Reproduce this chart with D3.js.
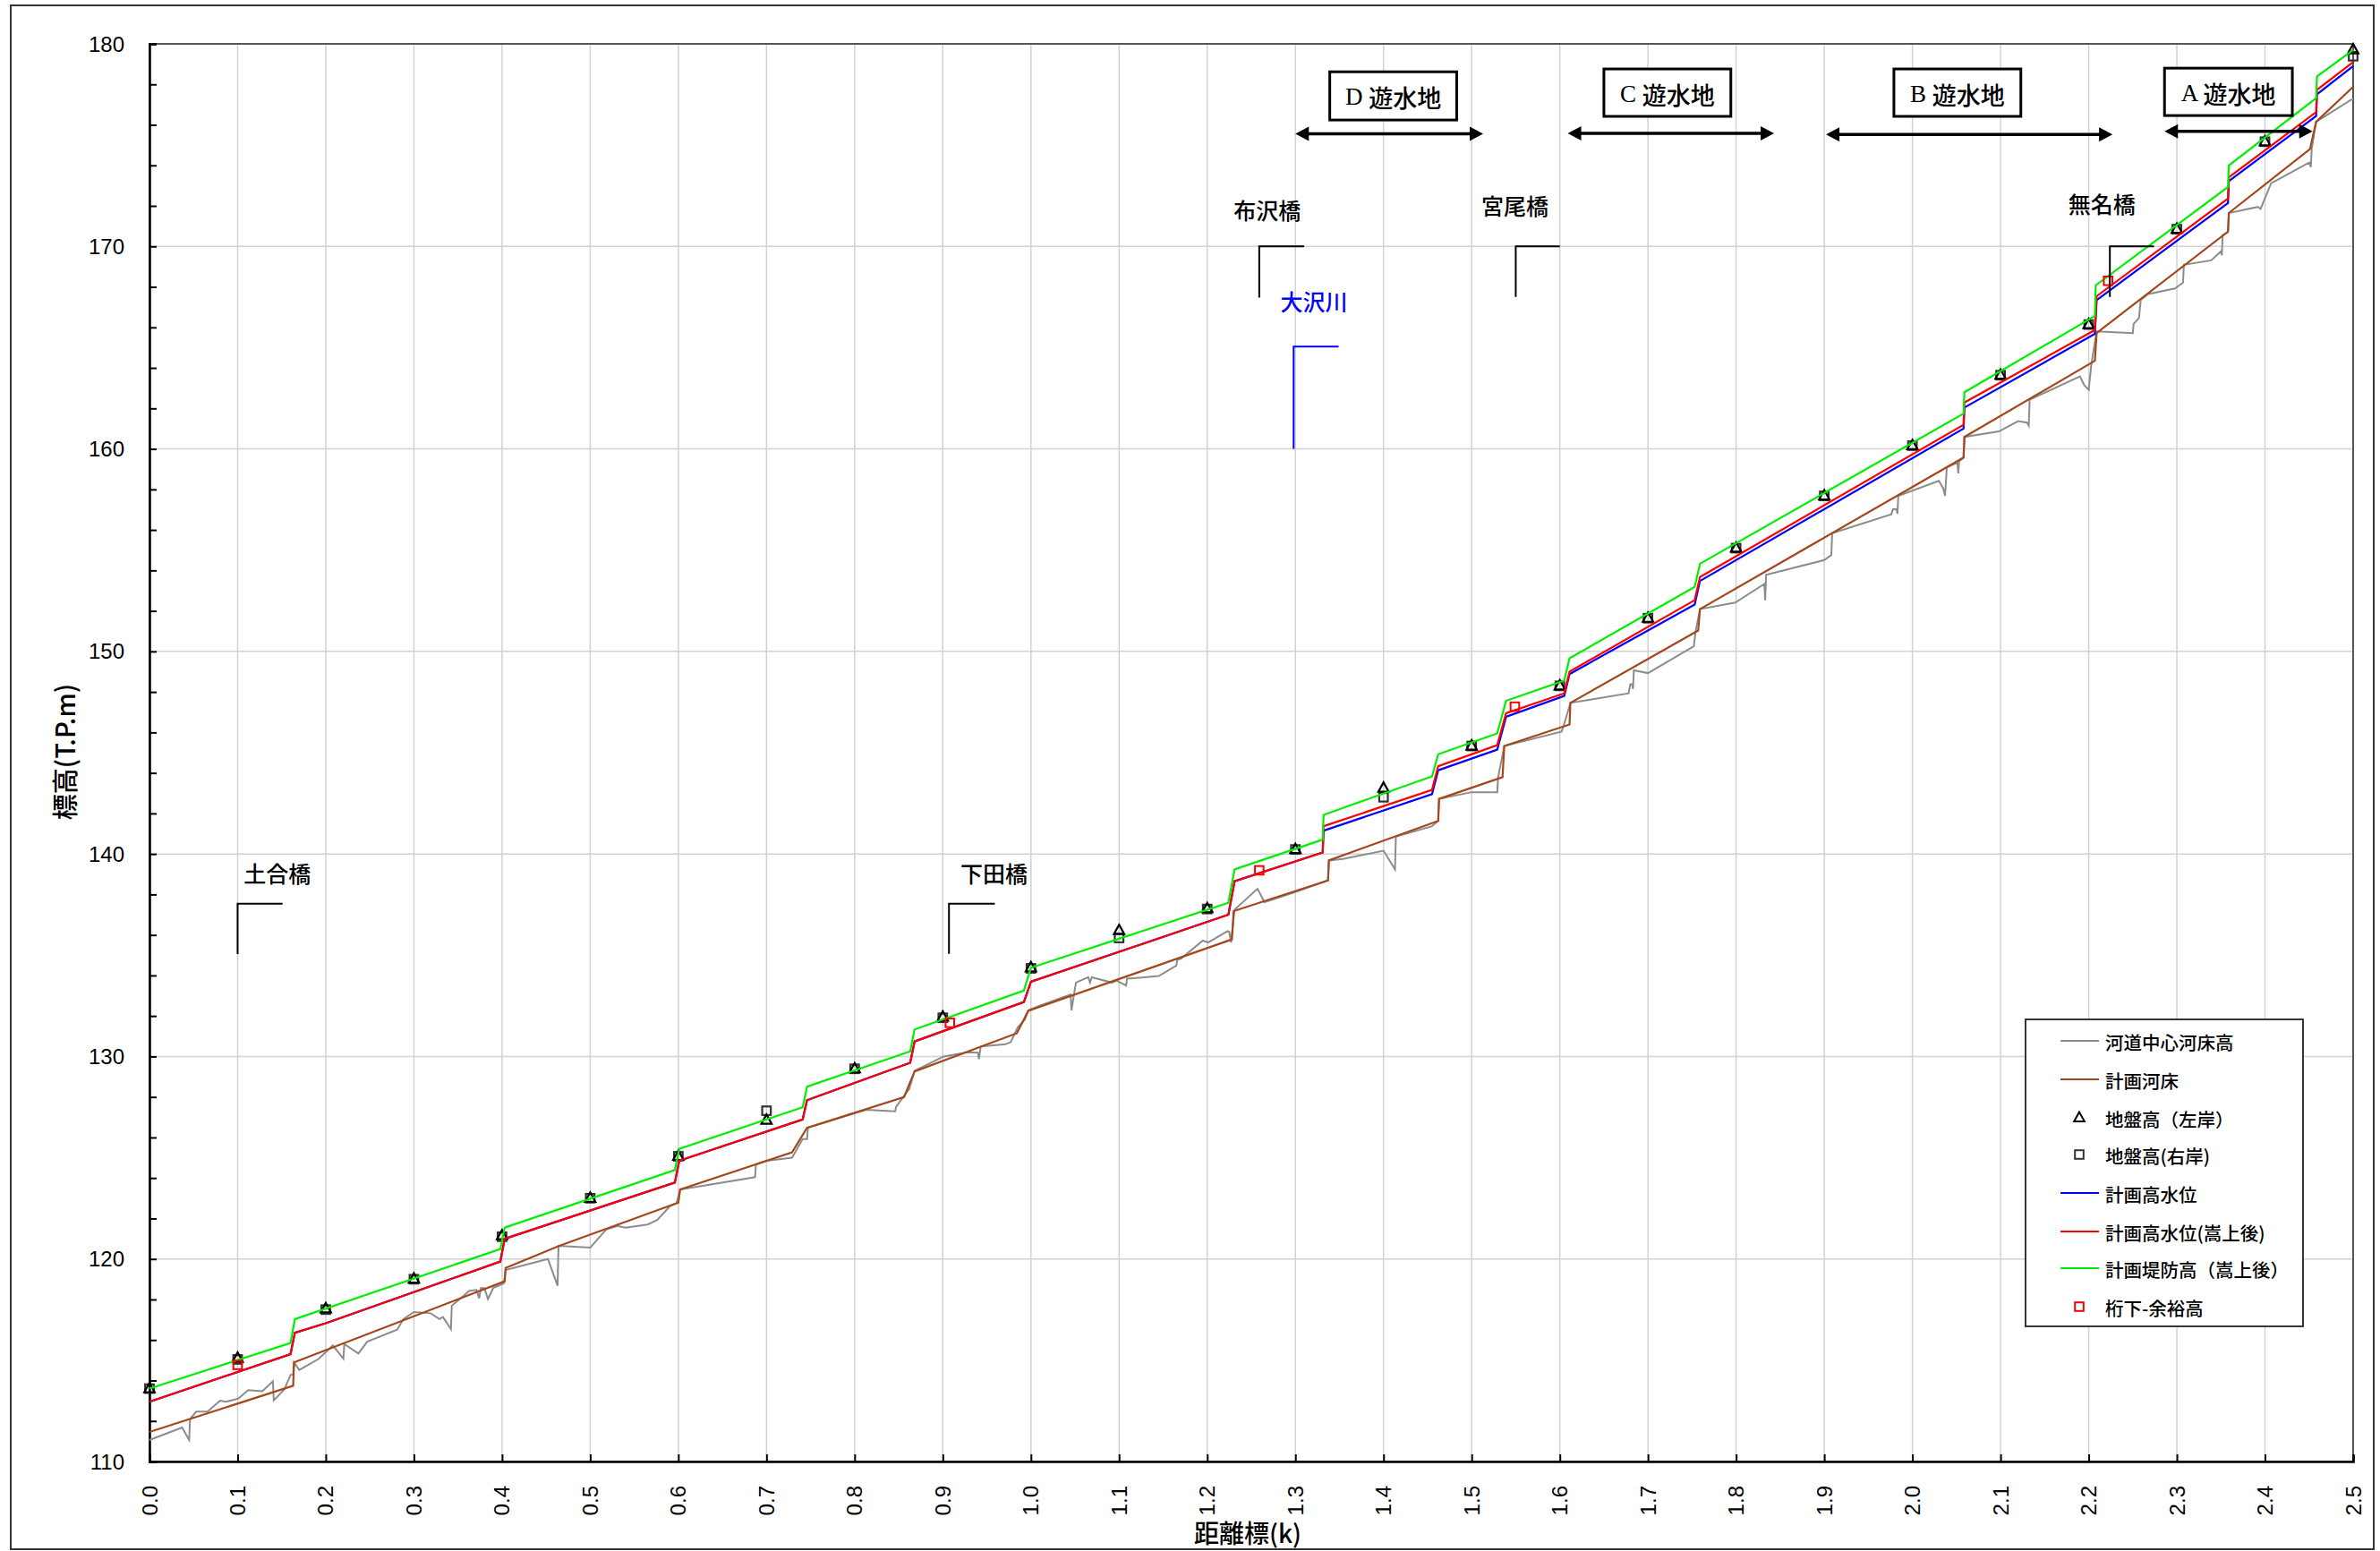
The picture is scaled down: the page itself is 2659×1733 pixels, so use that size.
<!DOCTYPE html>
<html><head><meta charset="utf-8">
<script src="https://cdn.jsdelivr.net/npm/d3@7"></script>
<style>body{margin:0;background:#fff}svg{display:block}</style>
</head><body><svg id="c" width="2659" height="1733"></svg>
<script>
// ---------------- DATA ----------------
const distanceTicks = ["0.0","0.1","0.2","0.3","0.4","0.5","0.6","0.7","0.8","0.9","1.0","1.1","1.2","1.3","1.4","1.5","1.6","1.7","1.8","1.9","2.0","2.1","2.2","2.3","2.4","2.5"];
const elevTicks = [110,120,130,140,150,160,170,180];

// 河道中心河床高 [k, T.P.m]
const bedCenter = [
[0.000,111.06],[0.037,111.68],[0.045,111.06],[0.046,112.09],[0.053,112.46],[0.066,112.46],[0.080,113.00],[0.087,112.95],[0.101,113.11],[0.112,113.52],[0.128,113.47],[0.140,113.96],[0.141,113.02],[0.153,113.56],[0.160,114.27],[0.163,114.30],[0.164,114.89],[0.170,114.52],[0.192,115.07],[0.208,115.73],[0.220,115.08],[0.221,115.80],[0.237,115.33],[0.247,115.92],[0.281,116.51],[0.288,117.03],[0.300,117.38],[0.319,117.32],[0.329,117.03],[0.333,117.13],[0.342,116.54],[0.343,117.69],[0.363,118.43],[0.371,118.47],[0.374,118.06],[0.376,118.57],[0.380,118.55],[0.384,118.02],[0.390,118.57],[0.402,118.79],[0.404,119.46],[0.452,120.00],[0.463,118.68],[0.464,120.65],[0.500,120.56],[0.518,121.45],[0.531,121.63],[0.540,121.55],[0.565,121.70],[0.576,121.92],[0.591,122.63],[0.598,122.75],[0.602,123.43],[0.687,124.04],[0.688,124.67],[0.700,124.85],[0.729,125.00],[0.741,125.92],[0.746,125.92],[0.747,126.48],[0.813,127.37],[0.846,127.29],[0.847,127.51],[0.862,128.40],[0.868,129.29],[0.901,130.00],[0.928,130.21],[0.940,130.19],[0.941,129.87],[0.943,130.49],[0.971,130.60],[0.977,130.71],[0.985,131.44],[0.993,131.81],[0.997,132.28],[1.008,132.47],[1.045,133.06],[1.046,132.28],[1.051,133.65],[1.065,133.91],[1.067,133.65],[1.069,133.91],[1.092,133.65],[1.097,133.75],[1.108,133.50],[1.109,133.84],[1.145,133.97],[1.165,134.49],[1.166,134.78],[1.170,134.82],[1.195,135.72],[1.201,135.63],[1.223,136.19],[1.225,136.15],[1.227,135.63],[1.231,137.25],[1.257,138.28],[1.265,137.62],[1.296,138.06],[1.337,138.69],[1.338,139.68],[1.354,139.75],[1.400,140.16],[1.413,139.24],[1.414,140.85],[1.455,141.37],[1.462,141.63],[1.463,142.72],[1.500,143.05],[1.529,143.05],[1.530,143.79],[1.537,145.33],[1.602,146.04],[1.604,146.28],[1.612,147.46],[1.678,147.93],[1.680,148.38],[1.682,148.38],[1.683,148.15],[1.684,149.07],[1.700,148.93],[1.752,150.25],[1.754,150.98],[1.759,152.09],[1.799,152.41],[1.832,153.33],[1.833,152.52],[1.834,153.78],[1.900,154.51],[1.908,154.76],[1.909,155.84],[1.976,156.77],[1.978,157.02],[1.982,157.02],[1.983,156.80],[1.984,157.68],[2.030,158.42],[2.035,158.05],[2.037,157.68],[2.039,159.09],[2.051,159.31],[2.052,158.79],[2.053,159.38],[2.058,159.57],[2.059,160.59],[2.098,160.86],[2.120,161.37],[2.130,161.30],[2.132,161.15],[2.133,162.43],[2.190,163.58],[2.195,163.14],[2.200,162.92],[2.203,164.17],[2.209,165.80],[2.250,165.72],[2.251,166.17],[2.257,166.46],[2.259,167.35],[2.267,167.64],[2.298,167.92],[2.307,168.21],[2.308,169.09],[2.339,169.31],[2.350,169.75],[2.351,169.56],[2.352,170.56],[2.358,170.70],[2.359,171.65],[2.392,171.95],[2.395,171.85],[2.407,173.12],[2.450,174.14],[2.452,173.92],[2.453,174.80],[2.458,176.15],[2.497,177.22],[2.500,177.26]
];

// 計画河床
const planBed = [
[0.000,111.46],[0.163,113.74],[0.164,114.89],[0.403,118.90],[0.404,119.56],[0.465,120.65],[0.600,122.78],[0.602,123.43],[0.729,125.27],[0.746,126.48],[0.856,127.99],[0.868,129.26],[0.984,131.15],[0.997,132.25],[1.228,135.78],[1.230,137.18],[1.337,138.69],[1.338,139.68],[1.462,141.63],[1.463,142.72],[1.535,143.79],[1.537,145.33],[1.611,146.39],[1.612,147.46],[1.757,151.03],[1.759,152.09],[2.058,159.57],[2.059,160.59],[2.207,164.35],[2.209,165.72],[2.358,170.73],[2.359,171.65],[2.451,174.80],[2.458,176.15],[2.500,177.88]
];

// 計画高水位
const planHWL = [
[0.000,112.95],[0.160,115.30],[0.165,116.36],[0.200,116.83],[0.398,119.87],[0.403,121.00],[0.596,123.77],[0.601,124.85],[0.741,126.89],[0.746,127.84],[0.863,129.69],[0.868,130.74],[0.992,132.69],[1.000,133.69],[1.224,137.00],[1.231,138.65],[1.331,140.07],[1.332,141.15],[1.455,142.95],[1.462,144.13],[1.529,145.15],[1.539,146.77],[1.605,147.80],[1.611,148.88],[1.753,152.31],[1.759,153.48],[2.058,161.00],[2.059,162.04],[2.207,165.68],[2.209,167.35],[2.358,172.14],[2.359,173.22],[2.458,176.44],[2.459,177.51],[2.500,178.90]
];

// 計画高水位(嵩上後)
const planHWLRaised = [
[0.000,112.95],[0.160,115.30],[0.165,116.36],[0.200,116.83],[0.398,119.87],[0.403,121.00],[0.596,123.77],[0.601,124.85],[0.741,126.89],[0.746,127.84],[0.863,129.69],[0.868,130.74],[0.992,132.69],[1.000,133.69],[1.224,137.00],[1.231,138.65],[1.331,140.07],[1.332,141.37],[1.455,143.16],[1.462,144.33],[1.529,145.37],[1.539,146.95],[1.605,147.93],[1.611,149.00],[1.753,152.53],[1.759,153.67],[2.058,161.19],[2.059,162.29],[2.207,165.87],[2.209,167.54],[2.358,172.36],[2.359,173.41],[2.458,176.63],[2.459,177.73],[2.500,179.10]
];

// 計画堤防高(嵩上後)
const leveeRaised = [
[0.000,113.60],[0.160,115.85],[0.165,117.03],[0.398,120.49],[0.403,121.55],[0.596,124.39],[0.601,125.44],[0.741,127.49],[0.746,128.51],[0.863,130.25],[0.868,131.33],[0.992,133.25],[1.000,134.38],[1.224,137.59],[1.231,139.24],[1.331,140.71],[1.332,141.93],[1.455,143.83],[1.462,144.92],[1.529,145.95],[1.539,147.56],[1.605,148.56],[1.611,149.66],[1.753,153.19],[1.759,154.33],[2.058,161.74],[2.059,162.80],[2.207,166.56],[2.208,168.08],[2.358,172.93],[2.359,174.00],[2.458,177.32],[2.459,178.39],[2.500,179.70]
];

// 地盤高
const groundK     = [0.0,0.1,0.2,0.3,0.4,0.5,0.6,0.7,0.8,0.9,1.0,1.1,1.2,1.3,1.4,1.5,1.6,1.7,1.8,1.9,2.0,2.1,2.2,2.3,2.4,2.5];
const groundLeft  = [113.60,115.10,117.54,119.01,121.15,123.00,125.07,126.85,129.39,131.95,134.38,136.22,137.30,140.22,143.25,145.33,148.30,151.64,155.10,157.68,160.16,163.64,166.14,170.85,175.17,179.71];
const groundRight = [113.60,115.04,117.50,119.00,121.10,123.00,125.07,127.32,129.39,131.91,134.35,135.85,137.28,140.22,142.80,145.33,148.30,151.64,155.10,157.68,160.16,163.64,166.14,170.85,175.17,179.39];

// 桁下-余裕高
const girderK = [0.100,0.908,1.259,1.549,2.222];
const girderV = [114.77,131.66,139.19,147.27,168.30];

// 橋梁注記
const bridges = [
  {name:"土合橋", k:0.100, kEnd:0.151, vTop:137.54, vBot:135.06, labelK:0.145, labelV:138.6},
  {name:"下田橋", k:0.907, kEnd:0.959, vTop:137.54, vBot:135.07, labelK:0.958, labelV:138.6},
  {name:"布沢橋", k:1.259, kEnd:1.310, vTop:170.00, vBot:167.47, labelK:1.268, labelV:171.35},
  {name:"宮尾橋", k:1.550, kEnd:1.600, vTop:170.00, vBot:167.50, labelK:1.549, labelV:171.56},
  {name:"無名橋", k:2.224, kEnd:2.274, vTop:170.00, vBot:167.50, labelK:2.215, labelV:171.64}
];
const tributary = {name:"大沢川", k:1.298, kEnd:1.349, vTop:165.05, vBot:160.00, labelK:1.321, labelV:166.84};

// 遊水地
const basins = [
  {letter:"D", k0:1.339, k1:1.483, vTop:178.62, vBot:176.24, a0:1.300, a1:1.513, av:175.56},
  {letter:"C", k0:1.650, k1:1.794, vTop:178.76, vBot:176.42, a0:1.609, a1:1.843, av:175.58},
  {letter:"B", k0:1.979, k1:2.123, vTop:178.76, vBot:176.42, a0:1.902, a1:2.227, av:175.53},
  {letter:"A", k0:2.286, k1:2.431, vTop:178.80, vBot:176.46, a0:2.286, a1:2.454, av:175.68}
];

const legendItems = [
  {label:"河道中心河床高", type:"line", color:"#8c8c8c"},
  {label:"計画河床", type:"line", color:"#a5461b"},
  {label:"地盤高（左岸）", type:"tri", color:"#000"},
  {label:"地盤高(右岸)", type:"sq", color:"#333"},
  {label:"計画高水位", type:"line", color:"#0000ff"},
  {label:"計画高水位(嵩上後)", type:"line", color:"#ff0000"},
  {label:"計画堤防高（嵩上後）", type:"line", color:"#00ee00"},
  {label:"桁下-余裕高", type:"sq", color:"#ff0000"}
];

// ---------------- DRAW ----------------
const JP = "'Noto Sans CJK JP','Noto Sans',sans-serif";
const NUM = "'Liberation Sans',Arial,sans-serif";
const svg = d3.select("#c");
const x = d3.scaleLinear().domain([0,2.5]).range([167,2629]);
const y = d3.scaleLinear().domain([110,180]).range([1633,49]);

svg.append("rect").attr("width",2659).attr("height",1733).attr("fill","#fff");
svg.append("rect").attr("x",12).attr("y",6).attr("width",2640).attr("height",1725)
  .attr("fill","none").attr("stroke","#333").attr("stroke-width",2);

// grid
const grid = svg.append("g").attr("stroke","#d2d2d2").attr("stroke-width",1.5);
distanceTicks.forEach(t => {
  const v = +t; if (v<=0 || v>=2.5) return;
  grid.append("line").attr("x1",x(v)).attr("x2",x(v)).attr("y1",y(110)).attr("y2",y(180));
});
elevTicks.forEach(v => {
  if (v<=110 || v>=180) return;
  grid.append("line").attr("x1",x(0)).attr("x2",x(2.5)).attr("y1",y(v)).attr("y2",y(v));
});

// plot frame
svg.append("rect").attr("x",x(0)).attr("y",y(180)).attr("width",x(2.5)-x(0)).attr("height",y(110)-y(180))
  .attr("fill","none").attr("stroke","#555").attr("stroke-width",2);

// axes (inside ticks)
const axG = svg.append("g");
const yAxis = d3.axisRight(y).tickValues(d3.range(110,181,2)).tickSize(8).tickFormat("");
axG.append("g").attr("transform",`translate(${x(0)},0)`).call(yAxis)
  .call(g=>{g.select(".domain").attr("stroke","#000").attr("stroke-width",2.5);g.selectAll("line").attr("stroke","#000").attr("stroke-width",2);});
const xAxis = d3.axisTop(x).tickValues(distanceTicks.map(Number)).tickSize(8).tickFormat("");
axG.append("g").attr("transform",`translate(0,${y(110)})`).call(xAxis)
  .call(g=>{g.select(".domain").attr("stroke","#000").attr("stroke-width",2.5);g.selectAll("line").attr("stroke","#000").attr("stroke-width",2);});

// tick labels
svg.append("g").selectAll("text").data(elevTicks).join("text")
  .attr("x",139).attr("y",d=>y(d)).attr("text-anchor","end").attr("dominant-baseline","central")
  .attr("font-family",NUM).attr("font-size",24).attr("fill","#000").text(d=>d);
svg.append("g").selectAll("text").data(distanceTicks).join("text")
  .attr("transform",d=>`translate(${x(+d)},${y(110)+27}) rotate(-90)`)
  .attr("text-anchor","end").attr("dominant-baseline","central")
  .attr("font-family",NUM).attr("font-size",24).attr("fill","#000").text(d=>d);

// axis titles
svg.append("text").attr("x",1394).attr("y",1712).attr("text-anchor","middle").attr("dominant-baseline","central")
  .attr("font-family",JP).attr("font-size",28).attr("font-weight",500).text("距離標(k)");
svg.append("text").attr("transform","translate(71,840) rotate(-90)").attr("text-anchor","middle").attr("dominant-baseline","central")
  .attr("font-family",JP).attr("font-size",29).attr("font-weight",500).text("標高(T.P.m)");

const line = d3.line().x(d=>x(d[0])).y(d=>y(d[1]));
const plot = svg.append("g");
plot.append("path").datum(bedCenter).attr("d",line).attr("fill","none").attr("stroke","#8c8c8c").attr("stroke-width",2);
plot.append("path").datum(planBed).attr("d",line).attr("fill","none").attr("stroke","#a5461b").attr("stroke-width",2.2);

// ground markers
const triPath = "M0,-6.5L5.8,4L-5.8,4Z";
plot.append("g").selectAll("rect").data(groundK).join("rect")
  .attr("x",(d,i)=>x(d)-4.8).attr("y",(d,i)=>y(groundRight[i])-4.8).attr("width",9.6).attr("height",9.6)
  .attr("fill","none").attr("stroke","#333").attr("stroke-width",2.2);
plot.append("g").selectAll("path").data(groundK).join("path")
  .attr("transform",(d,i)=>`translate(${x(d)},${y(groundLeft[i])})`).attr("d",triPath)
  .attr("fill","none").attr("stroke","#000").attr("stroke-width",2.2);

plot.append("path").datum(planHWL).attr("d",line).attr("fill","none").attr("stroke","#0000ff").attr("stroke-width",2.2);
plot.append("path").datum(planHWLRaised).attr("d",line).attr("fill","none").attr("stroke","#ff0000").attr("stroke-width",2.2);
plot.append("path").datum(leveeRaised).attr("d",line).attr("fill","none").attr("stroke","#00ee00").attr("stroke-width",2.2);

plot.append("g").selectAll("rect").data(girderK).join("rect")
  .attr("x",d=>x(d)-4.8).attr("y",(d,i)=>y(girderV[i])-4.8).attr("width",9.6).attr("height",9.6)
  .attr("fill","none").attr("stroke","#ff0000").attr("stroke-width",2);

// bridges
const ann = svg.append("g");
bridges.forEach(b=>{
  ann.append("path").attr("d",`M${x(b.k)},${y(b.vBot)}L${x(b.k)},${y(b.vTop)}L${x(b.kEnd)},${y(b.vTop)}`)
    .attr("fill","none").attr("stroke","#000").attr("stroke-width",2);
  ann.append("text").attr("x",x(b.labelK)).attr("y",y(b.labelV)).attr("text-anchor","middle")
    .attr("font-family",JP).attr("font-size",25).attr("font-weight",500).attr("fill","#000").text(b.name);
});
ann.append("path").attr("d",`M${x(tributary.k)},${y(tributary.vBot)}L${x(tributary.k)},${y(tributary.vTop)}L${x(tributary.kEnd)},${y(tributary.vTop)}`)
  .attr("fill","none").attr("stroke","#0000ff").attr("stroke-width",2);
ann.append("text").attr("x",x(tributary.labelK)).attr("y",y(tributary.labelV)).attr("text-anchor","middle")
  .attr("font-family",JP).attr("font-size",25).attr("font-weight",500).attr("fill","#0000ff").text(tributary.name);

// basins
basins.forEach(b=>{
  const x0=x(b.k0), x1=x(b.k1), yt=y(b.vTop), yb=y(b.vBot);
  ann.append("rect").attr("x",x0).attr("y",yt).attr("width",x1-x0).attr("height",yb-yt)
    .attr("fill","#fff").attr("stroke","#000").attr("stroke-width",3);
  const t = ann.append("text").attr("x",(x0+x1)/2).attr("y",(yt+yb)/2+1).attr("text-anchor","middle")
    .attr("dominant-baseline","central").attr("font-size",27).attr("fill","#000");
  t.append("tspan").attr("font-family","'Liberation Serif','Times New Roman',serif").text(b.letter+" ");
  t.append("tspan").attr("font-family",JP).attr("font-weight",500).text("遊水地");
  const a0=x(b.a0), a1=x(b.a1), ay=y(b.av), hl=15, hh=8;
  ann.append("line").attr("x1",a0+hl-2).attr("x2",a1-hl+2).attr("y1",ay).attr("y2",ay).attr("stroke","#000").attr("stroke-width",3.5);
  ann.append("path").attr("d",`M${a0},${ay}L${a0+hl},${ay-hh}L${a0+hl},${ay+hh}Z`).attr("fill","#000");
  ann.append("path").attr("d",`M${a1},${ay}L${a1-hl},${ay-hh}L${a1-hl},${ay+hh}Z`).attr("fill","#000");
});

// legend
const lg = svg.append("g");
lg.append("rect").attr("x",2263).attr("y",1139).attr("width",310).attr("height",343)
  .attr("fill","#fff").attr("stroke","#222").attr("stroke-width",1.8);
const rowY = [1163,1206,1249,1290,1333,1376,1417,1460];
legendItems.forEach((it,i)=>{
  const yy = rowY[i];
  if (it.type==="line") {
    lg.append("line").attr("x1",2302).attr("x2",2345).attr("y1",yy).attr("y2",yy).attr("stroke",it.color).attr("stroke-width",2.2);
  } else if (it.type==="tri") {
    lg.append("path").attr("transform",`translate(2323,${yy})`).attr("d",triPath).attr("fill","none").attr("stroke",it.color).attr("stroke-width",2);
  } else {
    lg.append("rect").attr("x",2323-4.8).attr("y",yy-4.8).attr("width",9.6).attr("height",9.6).attr("fill","none").attr("stroke",it.color).attr("stroke-width",2);
  }
  lg.append("text").attr("x",2352).attr("y",yy+1).attr("dominant-baseline","central")
    .attr("font-family",JP).attr("font-size",20.5).attr("font-weight",500).attr("fill","#000").text(it.label);
});
</script></body></html>
